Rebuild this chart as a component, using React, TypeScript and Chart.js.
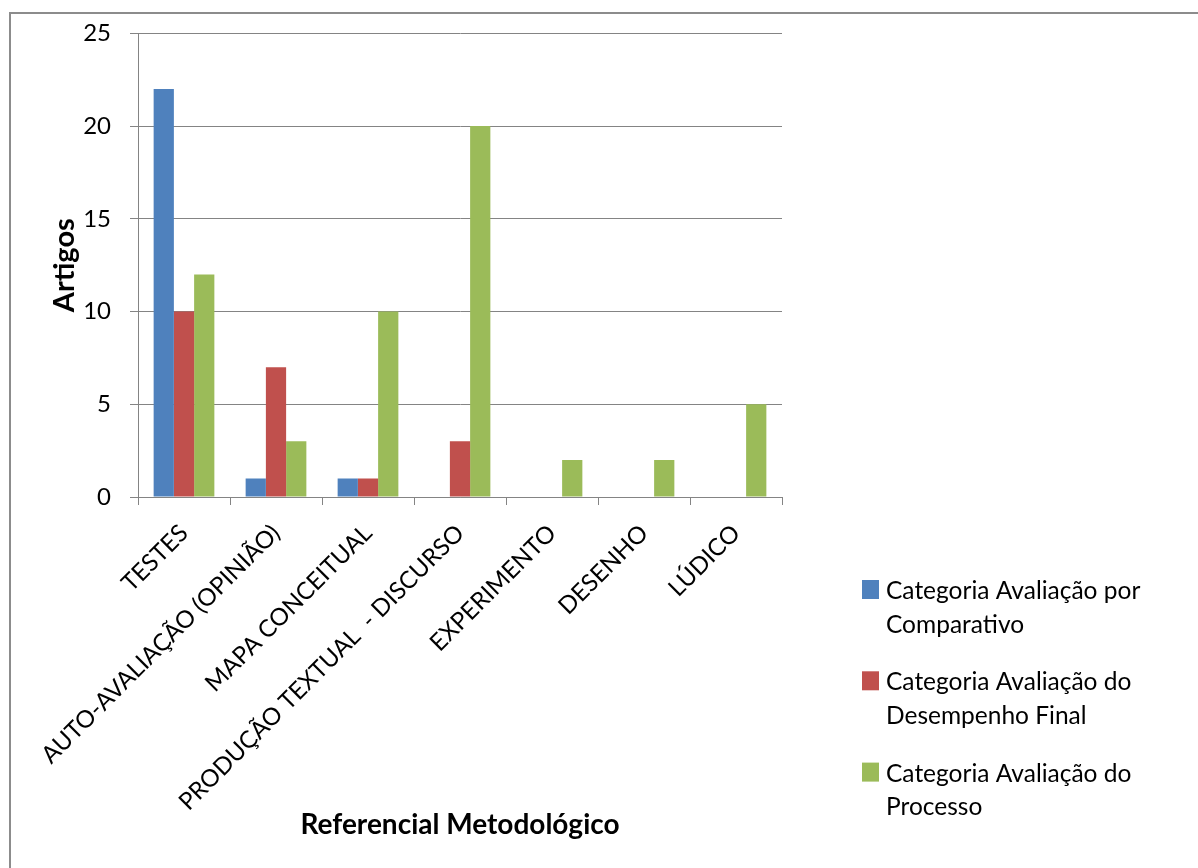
import { useEffect, useRef } from "react";
import { Chart, registerables } from "chart.js";

Chart.register(...registerables);

// Methodological references (x axis)
const categories = [
  "TESTES",
  "AUTO-AVALIAÇÃO (OPINIÃO)",
  "MAPA CONCEITUAL",
  "PRODUÇÃO TEXTUAL  - DISCURSO",
  "EXPERIMENTO",
  "DESENHO",
  "LÚDICO",
];

// Number of articles per evaluation category
const comparativo = [22, 1, 1, null, null, null, null];
const desempenhoFinal = [10, 7, 1, 3, null, null, null];
const processo = [12, 3, 10, 20, 2, 2, 5];

const seriesLabels = [
  ["Categoria Avaliação por", "Comparativo"],
  ["Categoria Avaliação do", "Desempenho Final"],
  ["Categoria Avaliação do", "Processo"],
];
const seriesColors = ["#4F81BD", "#C0504D", "#9BBB59"];

const yMin = 0;
const yMax = 25;
const yStep = 5;

const xTitle = "Referencial Metodológico";
const yTitle = "Artigos";

const FONT = "Lato, 'Open Sans', sans-serif";
const GRID = "#848484";
const W = 1198;
const H = 868;
const PLOT_TOP = 31;
const PLOT_BOTTOM = 497;
const PLOT_LEFT = 138;
const PLOT_RIGHT = 782;

// Outer frame of the chart object
const framePlugin = {
  id: "frame",
  beforeDraw(chart: Chart) {
    const ctx = chart.ctx;
    ctx.save();
    ctx.fillStyle = "#ffffff";
    ctx.fillRect(0, 0, W, H);
    ctx.strokeStyle = "#8c8c8c";
    ctx.lineWidth = 2;
    ctx.strokeRect(10, 13, W + 20, H + 20);
    ctx.restore();
  },
};

// Legend on the lower right, with two-line entries
const legendPlugin = {
  id: "sideLegend",
  afterDraw(chart: Chart) {
    const ctx = chart.ctx;
    ctx.save();
    ctx.font = `24.5px ${FONT}`;
    ctx.textBaseline = "alphabetic";
    ctx.textAlign = "left";
    chart.data.datasets.forEach((ds: any, i: number) => {
      const base = 599 + i * 91.3;
      ctx.fillStyle = ds.backgroundColor as string;
      ctx.fillRect(862, base - 19, 17, 19);
      ctx.fillStyle = "#000000";
      const lines = seriesLabels[i];
      lines.forEach((line, j) => {
        ctx.fillText(line, 886, base + j * 33.5);
      });
    });
    ctx.restore();
  },
};

export default function App() {
  const canvasRef = useRef<HTMLCanvasElement | null>(null);

  useEffect(() => {
    if (!canvasRef.current) return;
    const chart = new Chart(canvasRef.current, {
      type: "bar",
      data: {
        labels: categories,
        datasets: [
          { label: seriesLabels[0].join(" "), data: comparativo, backgroundColor: seriesColors[0] },
          { label: seriesLabels[1].join(" "), data: desempenhoFinal, backgroundColor: seriesColors[1] },
          { label: seriesLabels[2].join(" "), data: processo, backgroundColor: seriesColors[2] },
        ],
      },
      options: {
        responsive: false,
        animation: false,
        devicePixelRatio: 1,
        layout: { padding: { top: PLOT_TOP, right: W - PLOT_RIGHT, bottom: 0, left: 0 } },
        datasets: {
          bar: { categoryPercentage: 0.66, barPercentage: 1, borderWidth: 0 },
        },
        plugins: {
          legend: { display: false },
          tooltip: { enabled: false },
        },
        scales: {
          x: {
            offset: true,
            grid: {
              display: true,
              offset: true,
              drawOnChartArea: false,
              drawTicks: true,
              tickLength: 8,
              color: GRID,
            },
            border: { color: GRID, width: 1 },
            ticks: {
              minRotation: 45,
              maxRotation: 45,
              autoSkip: false,
              color: "#000000",
              padding: 14,
              font: { family: FONT, size: 24 },
            },
            title: {
              display: true,
              text: xTitle,
              color: "#000000",
              font: { family: FONT, size: 28, weight: "bold" },
              padding: { top: 0, bottom: 26 },
            },
            afterFit(scale: any) {
              scale.height = H - PLOT_BOTTOM;
            },
          },
          y: {
            min: yMin,
            max: yMax,
            grid: { color: GRID, tickLength: 8, lineWidth: 1 },
            border: { color: GRID, width: 1 },
            ticks: {
              stepSize: yStep,
              color: "#000000",
              padding: 19,
              font: { family: FONT, size: 24 },
            },
            title: {
              display: true,
              text: yTitle,
              color: "#000000",
              font: { family: FONT, size: 29, weight: "bold" },
              padding: { top: 47, bottom: 0 },
            },
            afterFit(scale: any) {
              scale.width = PLOT_LEFT;
            },
          },
        },
      },
      plugins: [framePlugin, legendPlugin],
    });
    return () => chart.destroy();
  }, []);

  return (
    <div style={{ position: "absolute", left: 0, top: 0, width: W, height: H }}>
      <canvas ref={canvasRef} width={W} height={H} style={{ display: "block" }} />
    </div>
  );
}
